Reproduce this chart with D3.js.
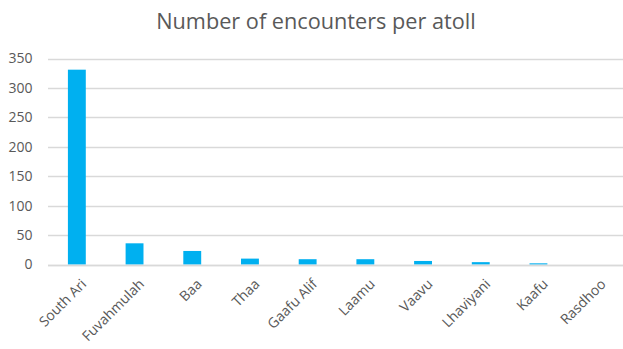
<!DOCTYPE html>
<html>
<head>
<meta charset="utf-8">
<script src="https://cdn.jsdelivr.net/npm/d3@7"></script>
<style>
  html, body { margin: 0; padding: 0; background: #fff; }
  svg { display: block; overflow: hidden; }
  text { font-family: "Open Sans", sans-serif; fill: #595959; }
</style>
</head>
<body>
<svg id="chart" width="623" height="349"></svg>
<script>
// Encounters recorded in each atoll
const atolls = ["South Ari", "Fuvahmulah", "Baa", "Thaa", "Gaafu Alif", "Laamu", "Vaavu", "Lhaviyani", "Kaafu", "Rasdhoo"];
const encounters = [331, 36, 23, 10, 9, 9, 6, 4, 2, 0];
const yTicks = [0, 50, 100, 150, 200, 250, 300, 350];
const titleText = "Number of encounters per atoll";

const svg = d3.select("#chart");
const margin = { top: 58.5, left: 48, bottom: 264.5, right: 625 };

const x = d3.scaleBand()
  .domain(atolls)
  .range([margin.left, margin.right])
  .paddingInner(0.69)
  .paddingOuter(0.345);

const y = d3.scaleLinear()
  .domain([0, 350])
  .range([margin.bottom, margin.top]);

// Title
svg.append("text")
  .attr("x", 316)
  .attr("y", 29)
  .attr("text-anchor", "middle")
  .style("font-size", "21.7px")
  .text(titleText);

// Horizontal gridlines
svg.append("g")
  .selectAll("line")
  .data(yTicks)
  .join("line")
  .attr("x1", margin.left)
  .attr("x2", margin.right)
  .attr("y1", d => Math.round(y(d)) + 0.5)
  .attr("y2", d => Math.round(y(d)) + 0.5)
  .attr("stroke", "#d9d9d9")
  .attr("stroke-width", 1.5);

// Y axis labels
const yAxis = d3.axisLeft(y).tickValues(yTicks).tickSize(0).tickPadding(0);
const gy = svg.append("g")
  .attr("transform", "translate(32.5,0)")
  .call(yAxis);
gy.select(".domain").remove();
gy.selectAll("text")
  .style("font-size", "14px")
  .style("font-family", "'Open Sans', sans-serif")
  .attr("fill", "#595959");

// Bars
svg.append("g")
  .selectAll("rect")
  .data(atolls.map((a, i) => ({ atoll: a, value: encounters[i] })))
  .join("rect")
  .attr("x", d => x(d.atoll))
  .attr("width", x.bandwidth())
  .attr("y", d => y(d.value))
  .attr("height", d => y(0) - y(d.value))
  .attr("fill", "#00b0f0");

// Baseline redrawn on top of bars
svg.append("line")
  .attr("x1", margin.left)
  .attr("x2", margin.right)
  .attr("y1", Math.round(y(0)) + 0.5)
  .attr("y2", Math.round(y(0)) + 0.5)
  .attr("stroke", "#d9d9d9")
  .attr("stroke-width", 1.5);

// X axis category labels, rotated
const xAxis = d3.axisBottom(x).tickSize(0).tickPadding(0);
const gx = svg.append("g")
  .attr("transform", `translate(0,${y(0)})`)
  .call(xAxis);
gx.select(".domain").remove();
gx.selectAll("text")
  .style("font-size", "14px")
  .style("font-family", "'Open Sans', sans-serif")
  .attr("fill", "#595959")
  .attr("text-anchor", "end")
  .attr("dy", "0.35em")
  .attr("transform", "translate(7,17) rotate(-45)");
</script>
</body>
</html>
